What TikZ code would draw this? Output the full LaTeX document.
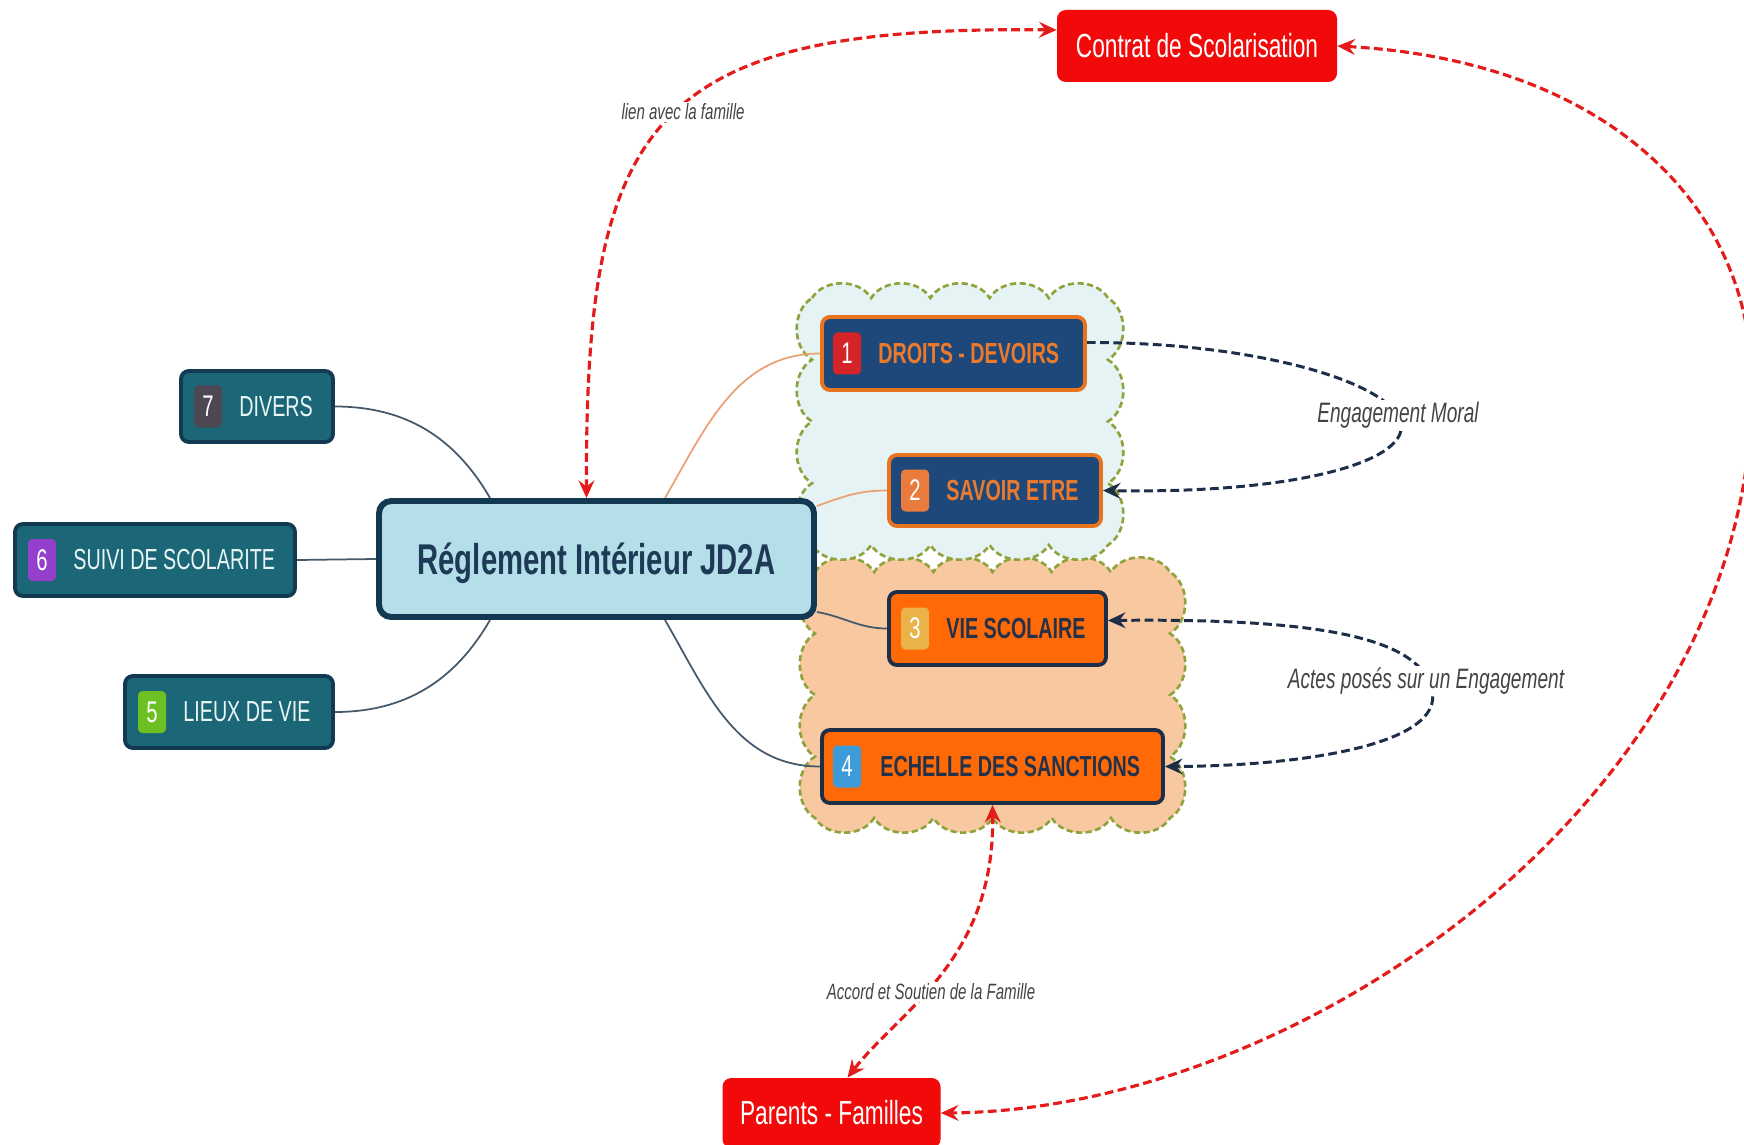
\documentclass[tikz,border=0pt]{standalone}
\usepackage{fontspec}
\setmainfont[FakeStretch=0.68]{Liberation Sans}
\usetikzlibrary{arrows.meta,calc}
\pgfdeclarelayer{cloudlayer}
\pgfdeclarelayer{linklayer}
\pgfsetlayers{cloudlayer,linklayer,main}
\definecolor{cTeal}{HTML}{1C6777}
\definecolor{cTealB}{HTML}{123A52}
\definecolor{cWhiteT}{HTML}{EAF6F6}
\definecolor{cNavy}{HTML}{1F487A}
\definecolor{cOrange}{HTML}{E8741E}
\definecolor{cOrText}{HTML}{EC7A2C}
\definecolor{cOrFill}{HTML}{FF6A06}
\definecolor{cDark}{HTML}{1C2E48}
\definecolor{cDarkT}{HTML}{23324A}
\definecolor{cLight}{HTML}{B4DEE8}
\definecolor{cNavyB}{HTML}{133852}
\definecolor{cNavyT}{HTML}{1E3A56}
\definecolor{cRed}{HTML}{F20A0A}
\definecolor{cRedD}{HTML}{E31B1B}
\definecolor{cCloudB}{HTML}{E6F3F5}
\definecolor{cCloudP}{HTML}{F8C8A0}
\definecolor{cOlive}{HTML}{8FA33C}
\definecolor{cLink}{HTML}{46596A}
\definecolor{cOLink}{HTML}{E9A272}
\definecolor{cLbl}{HTML}{444444}
\definecolor{cBa}{HTML}{D42428}
\definecolor{cBb}{HTML}{E97C3C}
\definecolor{cBc}{HTML}{EBB24A}
\definecolor{cBd}{HTML}{3E9BDA}
\definecolor{cBe}{HTML}{6DC023}
\definecolor{cBf}{HTML}{9440CC}
\definecolor{cBg}{HTML}{4D4754}
\tikzset{
  sz/.style 2 args={minimum width={(#1)*0.02cm}, minimum height={(#2)*0.02cm}},
  tealbox/.style={draw=cTealB, fill=cTeal, line width=2.2pt, rounded corners=4.5pt, inner sep=0pt},
  navybox/.style={draw=cOrange, fill=cNavy, line width=2.2pt, rounded corners=4.5pt, inner sep=0pt},
  orbox/.style={draw=cDark, fill=cOrFill, line width=2.2pt, rounded corners=4.5pt, inner sep=0pt},
  badge/.style={fill=#1, rounded corners=2.5pt, sz={28}{42}, inner sep=0pt, text=white, font=\fontsize{17}{18}\selectfont},
  ltxt/.style={anchor=west, inner sep=0pt, text=cWhiteT, font=\fontsize{16.5}{18}\selectfont},
  rtxt/.style={anchor=west, inner sep=0pt, text=#1, font=\bfseries\fontsize{16.5}{18}\selectfont},
  redbox/.style={fill=cRed, rounded corners=5pt, inner sep=0pt, text=white, font=\fontsize{19}{22}\selectfont},
  link/.style={draw=cLink, line width=1pt},
  olink/.style={draw=cOLink, line width=1pt},
  reddash/.style={draw=cRedD, line width=1.8pt, dash pattern=on 5pt off 2.5pt},
  darkdash/.style={draw=cDark, line width=1.7pt, dash pattern=on 5pt off 2.5pt},
  lbl/.style={fill=white, inner sep=1pt, text=cLbl, font=\itshape\fontsize{12.6}{14}\selectfont},
  biglbl/.style={fill=white, inner sep=1pt, text=cLbl, font=\itshape\fontsize{16}{18}\selectfont},
  cloudline/.style={draw=cOlive, line width=1.5pt, dash pattern=on 3.5pt off 2pt},
}
\begin{document}
\begin{tikzpicture}[x=0.02cm, y=-0.02cm, >={Stealth[length=10pt,width=9pt,inset=3.5pt]}]
\useasboundingbox (0,0) rectangle (1744,1145);

% clouds
\begin{pgfonlayer}{cloudlayer}
\path[fill=cCloudP, cloudline] (815,572)
  \foreach \i in {1,...,6}{ to[bend left=58] ++(59.17,0) }
  \foreach \i in {1,...,4}{ to[bend left=58] ++(0,61.5) }
  \foreach \i in {1,...,6}{ to[bend left=58] ++(-59.17,0) }
  \foreach \i in {1,...,4}{ to[bend left=58] ++(0,-61.5) } -- cycle;
\path[fill=cCloudB, cloudline] (812,298)
  \foreach \i in {1,...,5}{ to[bend left=58] ++(59.2,0) }
  \foreach \i in {1,...,4}{ to[bend left=58] ++(0,61.75) }
  \foreach \i in {1,...,5}{ to[bend left=58] ++(-59.2,0) }
  \foreach \i in {1,...,4}{ to[bend left=58] ++(0,-61.75) } -- cycle;
\end{pgfonlayer}

% central node
\node[draw=cNavyB, fill=cLight, line width=3.4pt, rounded corners=7pt, sz={435}{116},
      text=cNavyT, text depth=0pt, font=\bfseries\fontsize{24.5}{28}\selectfont] (main) at (596.5,559) {Réglement Intérieur JD2A};

% left branches
\node[tealbox, sz={152}{71}] (divers) at (257,406.5) {};
\node[badge=cBg] (b7) at ($(divers.west)+(29,0)$) {7};
\node[ltxt] (t7) at ($(divers.west)+(60,0)$) {DIVERS};

\node[tealbox, sz={280}{72}] (suivi) at (155,560) {};
\node[badge=cBf] (b6) at ($(suivi.west)+(29,0)$) {6};
\node[ltxt] (t6) at ($(suivi.west)+(60,0)$) {SUIVI DE SCOLARITE};

\node[tealbox, sz={208}{72}] (lieux) at (229,712) {};
\node[badge=cBe] (b5) at ($(lieux.west)+(29,0)$) {5};
\node[ltxt] (t5) at ($(lieux.west)+(60,0)$) {LIEUX DE VIE};

% right branches
\node[navybox, sz={263}{73}] (droits) at (953.5,353.5) {};
\node[badge=cBa] (b1) at ($(droits.west)+(27,0)$) {1};
\node[rtxt=cOrText] (t1) at ($(droits.west)+(58,0)$) {DROITS - DEVOIRS};

\node[navybox, sz={212}{71}] (savoir) at (995,490.5) {};
\node[badge=cBb] (b2) at ($(savoir.west)+(28,0)$) {2};
\node[rtxt=cOrText] (t2) at ($(savoir.west)+(59,0)$) {SAVOIR ETRE};

\node[orbox, sz={217}{73}] (vie) at (997.5,628.5) {};
\node[badge=cBc] (b3) at ($(vie.west)+(28,0)$) {3};
\node[rtxt=cDarkT] (t3) at ($(vie.west)+(59,0)$) {VIE SCOLAIRE};

\node[orbox, sz={341}{73}] (echelle) at (992.5,766.5) {};
\node[badge=cBd] (b4) at ($(echelle.west)+(27,0)$) {4};
\node[rtxt=cDarkT] (t4) at ($(echelle.west)+(60,0)$) {ECHELLE DES SANCTIONS};

% red nodes
\node[redbox, sz={280}{72}] (contrat) at (1197,46) {Contrat de Scolarisation};
\node[redbox, sz={218}{70}] (parents) at (831.5,1113) {Parents - Familles};

% connectors
\begin{pgfonlayer}{linklayer}
\draw[link] (divers.east) to[out=0,in=120] ($(main.north west)+(114,0)$);
\draw[link] (suivi.east) -- (main.west);
\draw[link] (lieux.east) to[out=0,in=240] ($(main.south west)+(114,0)$);
\draw[olink] ($(main.north east)+(-152,0)$) to[out=60,in=180] (droits.west);
\draw[olink] ($(main.north east)+(0,8)$) to[out=20,in=180] (savoir.west);
\draw[link] ($(main.south east)+(0,-8)$) to[out=-10,in=180] (vie.west);
\draw[link] ($(main.south east)+(-152,0)$) to[out=-60,in=180] (echelle.west);

\draw[reddash,<->] ($(contrat.west)+(0,-16)$) .. controls (650,25) and (585,120) .. ($(main.north)+(-10,0)$);
\draw[reddash,<->] (contrat.east) .. controls (1600,60) and (1754,200) .. (1752,390)
   .. controls (1750,800) and (1300,1110) .. (parents.east);
\draw[reddash,<->] (echelle.south) .. controls (995,960) and (900,1010) .. ($(parents.north)+(16,0)$);

\draw[darkdash,->] ($(droits.east)+(0,-11)$) .. controls (1250,342) and (1385,380) .. (1400,420)
   .. controls (1415,460) and (1300,494) .. (savoir.east);
\draw[darkdash,<->] ($(vie.east)+(0,-8)$) .. controls (1330,618) and (1420,640) .. (1432,690)
   .. controls (1445,745) and (1300,766) .. (echelle.east);
\end{pgfonlayer}

% labels
\node[lbl] (l1) at (683,112) {lien avec la famille};
\node[lbl] (l2) at (931,992) {Accord et Soutien de la Famille};
\node[biglbl] (l3) at (1398,415) {Engagement Moral};
\node[biglbl] (l4) at (1426,681) {Actes posés sur un Engagement};
\end{tikzpicture}
\end{document}
